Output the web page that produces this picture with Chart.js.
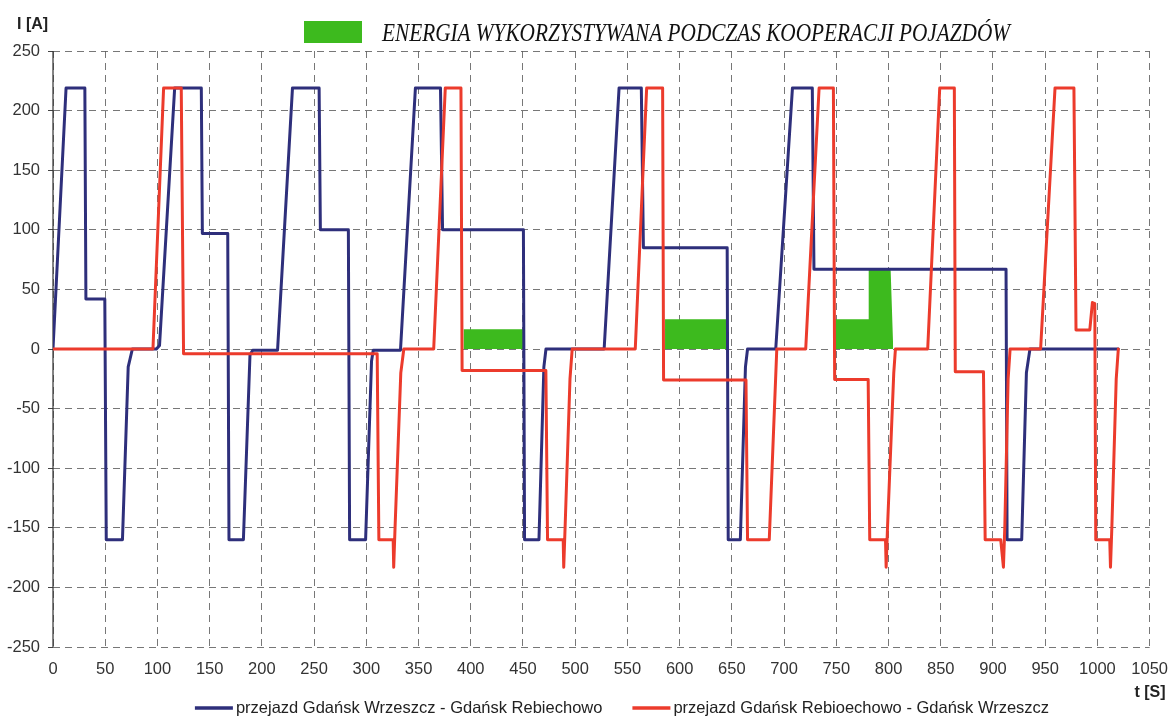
<!DOCTYPE html>
<html>
<head>
<meta charset="utf-8">
<script src="https://cdn.jsdelivr.net/npm/chart.js@4/dist/chart.umd.min.js"></script>
<style>
html,body{margin:0;padding:0;background:#fff;}
canvas{display:block;}
</style>
</head>
<body>
<canvas id="c" width="1173" height="718"></canvas>
<script>
// Series 1: przejazd Gdańsk Wrzeszcz - Gdańsk Rebiechowo (time [s], current [A])
const tBlue = [0,12.5,30.5,31.5,49.6,51,66.5,72,76,99,102,116.5,142,143,167.3,168.5,182.3,188.6,191.2,215,229.3,254.8,256,282.8,284,299.3,305,306.6,332.7,347,371,373,450.4,451.5,465.3,470,472,527.7,542,563.3,565.3,645.5,646.5,658.1,663,665,692,708,727,728.6,912.5,913.5,927.5,932,935.4,1020];
const iBlue = [0,219,219,42,42,-160,-160,-15,0,0,3,219,219,97,97,-160,-160,-5,-1,-1,219,219,100,100,-160,-160,-10,-1,-1,219,219,100,100,-160,-160,-15,0,0,219,219,85,85,-160,-160,-15,0,0,219,219,67,67,-160,-160,-20,0,0];

// Series 2: przejazd Gdańsk Rebioechowo - Gdańsk Wrzeszcz
const tRed = [0,95.7,105.9,122.8,125,310.4,312,325.7,326.2,327.5,333,335.9,364.5,375.6,390.6,391.7,471.9,473.5,488.5,489,490.3,495,497.1,557.5,568.4,583.7,584.6,663.5,665,685.8,693,720.7,733.5,747.2,748.4,780.5,782,797.1,797.7,799,805,806.6,837.5,849,863,863.9,890.9,892.5,907.4,910,911.3,914.5,916.4,945.6,959.4,977.5,979.5,992.7,995.2,997.5,998.4,1011.8,1012.5,1013.8,1018,1020];
const iRed = [0,0,219,219,-4,-4,-160,-160,-183,-150,-20,0,0,219,219,-18,-18,-160,-160,-183,-150,-25,0,0,219,219,-26,-26,-160,-160,0,0,219,219,-25.5,-25.5,-160,-160,-183,-150,-20,0,0,219,219,-19,-19,-160,-160,-183,-150,-25,0,0,219,219,16,16,39,38,-160,-160,-183,-150,-25,0];

// Energy used during vehicle cooperation (green areas)
const tCoop = [393,393,450,450,586,586,644.5,644.5,749,749,781,781,802,804.5];
const iCoop = [0,16.5,16.5,0,0,25,25,0,0,25,25,67,67,0];

// Axis ticks
const yTicks = [-250,-200,-150,-100,-50,0,50,100,150,200,250];
const xTicks = [0,50,100,150,200,250,300,350,400,450,500,550,600,650,700,750,800,850,900,950,1000,1050];

const legendTop = 'ENERGIA WYKORZYSTYWANA PODCZAS KOOPERACJI POJAZDÓW';
const legendBlue = 'przejazd Gdańsk Wrzeszcz - Gdańsk Rebiechowo';
const legendRed = 'przejazd Gdańsk Rebioechowo - Gdańsk Wrzeszcz';
const yTitle = 'I [A]';
const xTitle = 't [S]';

const BLUE = '#2e2f7b';
const RED = '#ec3b2c';
const GREEN = '#3dba1e';

const pts = (t, v) => t.map((x, k) => ({x: x, y: v[k]}));

const axisLinePlugin = {
  id: 'axisLinePlugin',
  beforeDatasetsDraw(chart) {
    const ctx = chart.ctx, a = chart.chartArea;
    ctx.save();
    ctx.strokeStyle = '#333';
    ctx.lineWidth = 1.2;
    ctx.setLineDash([]);
    ctx.beginPath();
    ctx.moveTo(a.left, a.top);
    ctx.lineTo(a.left, a.bottom);
    ctx.stroke();
    ctx.restore();
  }
};

const textPlugin = {
  id: 'textPlugin',
  afterDraw(chart) {
    const ctx = chart.ctx;
    ctx.save();
    ctx.fillStyle = '#222';
    ctx.font = 'bold 16px "Liberation Sans", Arial, sans-serif';
    ctx.textBaseline = 'middle';
    ctx.textAlign = 'left';
    ctx.fillText(yTitle, 17, 25);
    ctx.textAlign = 'center';
    ctx.fillText(xTitle, 1150, 693);
    ctx.fillStyle = GREEN;
    ctx.fillRect(304, 21, 58, 22);
    ctx.fillStyle = '#111';
    ctx.font = 'italic 25px "Liberation Serif", "DejaVu Serif", serif';
    ctx.textAlign = 'left';
    ctx.textBaseline = 'alphabetic';
    ctx.fillText(legendTop, 382, 41, 628);
    ctx.font = '16.5px "Liberation Sans", Arial, sans-serif';
    ctx.textBaseline = 'middle';
    const lineW = 38, gap = 3, itemGap = 30;
    const w1 = ctx.measureText(legendBlue).width;
    const w2 = ctx.measureText(legendRed).width;
    const total = lineW + gap + w1 + itemGap + lineW + gap + w2;
    let x = 622 - total / 2;
    const y = 708;
    ctx.lineWidth = 3.5;
    ctx.strokeStyle = BLUE;
    ctx.beginPath(); ctx.moveTo(x, y); ctx.lineTo(x + lineW, y); ctx.stroke();
    x += lineW + gap;
    ctx.fillStyle = '#222';
    ctx.fillText(legendBlue, x, y);
    x += w1 + itemGap;
    ctx.strokeStyle = RED;
    ctx.beginPath(); ctx.moveTo(x, y); ctx.lineTo(x + lineW, y); ctx.stroke();
    x += lineW + gap;
    ctx.fillText(legendRed, x, y);
    ctx.restore();
  }
};

new Chart(document.getElementById('c'), {
  type: 'line',
  data: {
    datasets: [
      {
        label: legendTop,
        data: pts(tCoop, iCoop),
        borderWidth: 0,
        borderColor: GREEN,
        backgroundColor: GREEN,
        fill: 'origin',
        pointRadius: 0,
        tension: 0,
        order: 3
      },
      {
        label: legendBlue,
        data: pts(tBlue, iBlue),
        borderColor: BLUE,
        borderWidth: 3,
        borderJoinStyle: 'round',
        borderCapStyle: 'round',
        fill: false,
        pointRadius: 0,
        tension: 0,
        order: 2
      },
      {
        label: legendRed,
        data: pts(tRed, iRed),
        borderColor: RED,
        borderWidth: 3,
        borderJoinStyle: 'round',
        borderCapStyle: 'round',
        fill: false,
        pointRadius: 0,
        tension: 0,
        order: 1
      }
    ]
  },
  options: {
    responsive: false,
    animation: false,
    events: [],
    layout: { padding: { left: 0, right: 17, top: 51, bottom: 40 } },
    plugins: {
      legend: { display: false },
      tooltip: { enabled: false },
      title: { display: false }
    },
    scales: {
      x: {
        type: 'linear',
        min: 0,
        max: 1050,
        afterBuildTicks: (s) => { s.ticks = xTicks.map(v => ({value: v})); },
        afterFit: (s) => { s.height = 31; },
        border: { display: false, dash: [7, 5] },
        grid: {
          color: 'rgba(95,95,95,0.85)',
          lineWidth: 1,
          drawTicks: true,
          tickLength: 8,
          tickColor: 'rgba(0,0,0,0)'
        },
        ticks: {
          color: '#333',
          padding: 5,
          maxRotation: 0,
          autoSkip: false,
          callback: (v) => String(v),
          font: { family: '"Liberation Sans", Arial, sans-serif', size: 16.5 }
        }
      },
      y: {
        type: 'linear',
        min: -250,
        max: 250,
        afterBuildTicks: (s) => { s.ticks = yTicks.map(v => ({value: v})); },
        afterFit: (s) => { s.width = 53; },
        border: { display: false, dash: [7, 5] },
        grid: {
          color: 'rgba(95,95,95,0.85)',
          lineWidth: 1,
          drawTicks: true,
          tickLength: 5,
          tickColor: '#444',
          tickBorderDash: []
        },
        ticks: {
          color: '#333',
          padding: 8,
          autoSkip: false,
          callback: (v) => String(v),
          font: { family: '"Liberation Sans", Arial, sans-serif', size: 16.5 }
        }
      }
    }
  },
  plugins: [axisLinePlugin, textPlugin]
});
</script>
</body>
</html>
